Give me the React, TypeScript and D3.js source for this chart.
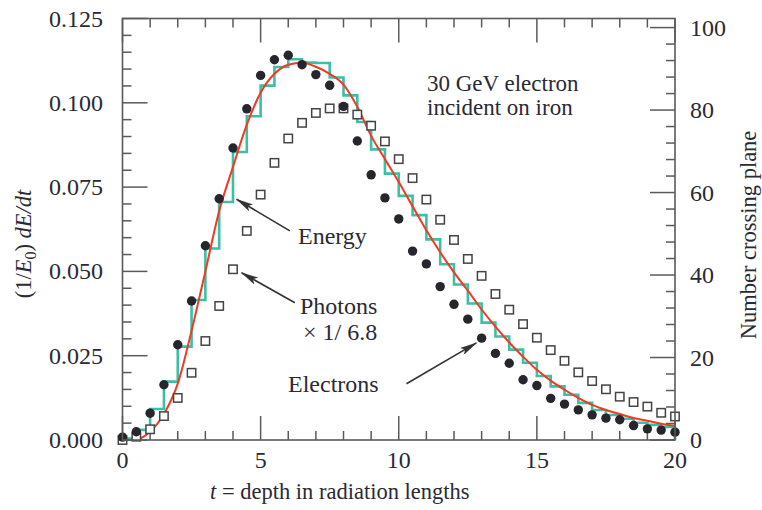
import React from "react";
import * as d3 from "d3";

// depth t in radiation lengths (sample points, also histogram bin edges)
const depth = [
  0, 0.5, 1, 1.5, 2, 2.5, 3, 3.5, 4, 4.5, 5, 5.5, 6, 6.5, 7, 7.5, 8, 8.5, 9, 9.5,
  10, 10.5, 11, 11.5, 12, 12.5, 13, 13.5, 14, 14.5, 15, 15.5, 16, 16.5, 17, 17.5,
  18, 18.5, 19, 19.5, 20,
];

// (1/E0) dE/dt per 0.5 X0 bin (histogram), bins [depth[i], depth[i+1]]
const energyHist = [
  0.0004, 0.003, 0.0092, 0.0173, 0.0277, 0.0415, 0.0568, 0.0706, 0.0854, 0.096,
  0.1051, 0.1106, 0.1129, 0.1119, 0.1118, 0.1075, 0.1022, 0.0943, 0.0862, 0.079,
  0.0724, 0.0667, 0.0595, 0.0521, 0.0461, 0.0405, 0.0348, 0.0307, 0.0268, 0.0229,
  0.019, 0.0159, 0.0134, 0.011, 0.0089, 0.0074, 0.0063, 0.0051, 0.0045, 0.0039,
];

// smooth fit to the energy deposit
const energyFit = [
  0, 0.0001, 0.0025, 0.0077, 0.0167, 0.0324, 0.05, 0.0679, 0.081, 0.0935, 0.103,
  0.1086, 0.1113, 0.1119, 0.1107, 0.1086, 0.1054, 0.0988, 0.0902, 0.0833, 0.0765,
  0.0693, 0.0622, 0.0557, 0.0497, 0.0443, 0.0387, 0.0336, 0.0289, 0.0247, 0.0208,
  0.0176, 0.0149, 0.0125, 0.0104, 0.0089, 0.0077, 0.0065, 0.0057, 0.0048, 0.0042,
];

// number of electrons crossing plane (right axis)
const electrons = [
  0.7, 2.0, 6.5, 13.4, 23.1, 33.7, 47.1, 58.5, 70.8, 80.3, 88.4, 92.2, 93.3, 91.0,
  88.6, 86.0, 80.9, 72.5, 64.3, 58.7, 53.6, 45.8, 42.7, 37.2, 32.9, 29.3, 24.7,
  21.0, 18.6, 14.6, 13.2, 10.1, 8.7, 7.3, 6.1, 5.3, 4.9, 3.5, 2.7, 2.4, 1.9,
];

// number of photons crossing plane x 1/6.8 (right axis)
const photons = [
  0, 0.8, 2.6, 5.8, 10.2, 16.3, 24.0, 32.5, 41.4, 50.7, 59.5, 67.2, 73.1, 76.9,
  79.3, 80.4, 80.4, 78.9, 76.2, 72.4, 68.1, 63.5, 58.3, 53.4, 48.5, 43.9, 39.8,
  35.4, 31.6, 28.1, 24.8, 21.8, 19.2, 16.4, 14.3, 12.3, 10.5, 9.2, 8.1, 6.6, 5.7,
];

const xTicks = [0, 5, 10, 15, 20];
const leftTicks = [0, 0.025, 0.05, 0.075, 0.1, 0.125];
const rightTicks = [0, 20, 40, 60, 80, 100];

const W = 762;
const H = 510;
const FONT = "'Liberation Serif', 'Times New Roman', serif";
const INK = "#2a2a33";
const AXIS = "#5a5a5a";
const TEAL = "#3dbfa6";
const RED = "#ef3a24";

export default function App() {
  const x = d3.scaleLinear().domain([0, 20]).range([122.5, 675]);
  const yL = d3.scaleLinear().domain([0, 0.125]).range([440, 18.5]);
  const yR = d3.scaleLinear().domain([0, 102.2]).range([440, 18.5]);

  const [x0, x1] = x.range();
  const [yb, yt] = yL.range();

  const histPts: [number, number][] = energyHist.map((v, i) => [depth[i], v]);
  histPts.push([20, energyHist[energyHist.length - 1]]);
  histPts.push([20, 0]);
  const histPath = d3
    .line<[number, number]>()
    .x(d => x(d[0]))
    .y(d => yL(d[1]))
    .curve(d3.curveStepAfter)(histPts);

  const fitPath = d3
    .line<number>()
    .x((d, i) => x(depth[i]))
    .y(d => yL(d))
    .curve(d3.curveMonotoneX)(energyFit);

  const xMinor = d3.range(0, 20.001, 1);
  const leftMinor = d3.range(0, 0.12501, 0.005);
  const rightMinor = d3.range(0, 101, 4);
  const fmtL = d3.format(".3f");

  const arrows = [
    { from: [6.06, 0.062], to: [4.13, 0.0714] },
    { from: [6.24, 0.0407], to: [4.31, 0.0496] },
    { from: [10.28, 0.0167], to: [12.81, 0.0288] },
  ];

  return (
    <svg
      width={W}
      height={H}
      style={{ position: "absolute", left: 0, top: 0, background: "#fff" }}
      fontFamily={FONT}
    >
      <defs>
        <marker
          id="arrowhead"
          viewBox="0 0 18 8"
          refX="17"
          refY="4"
          markerWidth="18"
          markerHeight="8"
          markerUnits="userSpaceOnUse"
          orient="auto"
        >
          <path d="M0,0 L18,4 L0,8 L4,4 Z" fill="#333" />
        </marker>
      </defs>

      {/* ticks */}
      <g stroke={AXIS} strokeWidth={1.5}>
        {xMinor.map(t => {
          const len = xTicks.includes(t) ? 24 : 9;
          return (
            <g key={"xt" + t}>
              <line x1={x(t)} x2={x(t)} y1={yb} y2={yb - len} />
              <line x1={x(t)} x2={x(t)} y1={yt} y2={yt + len} />
            </g>
          );
        })}
        {leftMinor.map((v, i) => (
          <line
            key={"lt" + i}
            x1={x0}
            x2={x0 + (i % 5 === 0 ? 25 : 9)}
            y1={yL(v)}
            y2={yL(v)}
          />
        ))}
        {rightMinor.map((v, i) => (
          <line
            key={"rt" + i}
            x1={x1}
            x2={x1 - (i % 5 === 0 ? 25 : 9)}
            y1={yR(v)}
            y2={yR(v)}
          />
        ))}
      </g>

      {/* data */}
      <path d={histPath || ""} fill="none" stroke={TEAL} strokeWidth={2.6} />
      <path d={fitPath || ""} fill="none" stroke={RED} strokeWidth={2} />
      {photons.map((v, i) => (
        <rect
          key={"p" + i}
          x={x(depth[i]) - 4.2}
          y={yR(v) - 4.2}
          width={8.4}
          height={8.4}
          fill="#fff"
          stroke="#444"
          strokeWidth={1.5}
        />
      ))}
      {electrons.map((v, i) => (
        <circle key={"e" + i} cx={x(depth[i])} cy={yR(v)} r={4.7} fill="#26262c" />
      ))}

      {/* frame */}
      <rect
        x={x0}
        y={yt}
        width={x1 - x0}
        height={yb - yt}
        fill="none"
        stroke={AXIS}
        strokeWidth={1.6}
      />

      {/* tick labels */}
      <g fill={INK} fontSize={24}>
        {xTicks.map(t => (
          <text key={"xl" + t} x={x(t)} y={468} textAnchor="middle">
            {t}
          </text>
        ))}
        {leftTicks.map(v => (
          <text key={"ll" + v} x={103} y={yL(v) + 8} textAnchor="end">
            {fmtL(v)}
          </text>
        ))}
        {rightTicks.map(v => (
          <text key={"rl" + v} x={690} y={yR(v) + 8} textAnchor="start">
            {v}
          </text>
        ))}
      </g>

      {/* axis titles */}
      <text x={210} y={499} fontSize={22.5} fill={INK}>
        <tspan fontStyle="italic">t</tspan> = depth in radiation lengths
      </text>
      <text
        transform="translate(31,244) rotate(-90)"
        textAnchor="middle"
        fontSize={22.5}
        fill={INK}
      >
        (1/<tspan fontStyle="italic">E</tspan>
        <tspan fontSize={16} dy={5}>0</tspan>
        <tspan dy={-5}>)</tspan>
        <tspan fontStyle="italic"> dE/dt</tspan>
      </text>
      <text
        transform="translate(756,235) rotate(-90)"
        textAnchor="middle"
        fontSize={22.5}
        fill={INK}
      >
        Number crossing plane
      </text>

      {/* annotations */}
      <g fill={INK} fontSize={24}>
        <text x={427} y={90.5} fontSize={23}>30 GeV electron</text>
        <text x={427} y={114.5} fontSize={23}>incident on iron</text>
        <text x={298} y={244}>Energy</text>
        <text x={300} y={313.5}>Photons</text>
        <text x={303} y={339.5}>× 1/ 6.8</text>
        <text x={288} y={391.5}>Electrons</text>
      </g>
      <g stroke="#333" strokeWidth={1.6}>
        {arrows.map((a, i) => (
          <line
            key={"a" + i}
            x1={x(a.from[0])}
            y1={yL(a.from[1])}
            x2={x(a.to[0])}
            y2={yL(a.to[1])}
            markerEnd="url(#arrowhead)"
          />
        ))}
      </g>
    </svg>
  );
}
